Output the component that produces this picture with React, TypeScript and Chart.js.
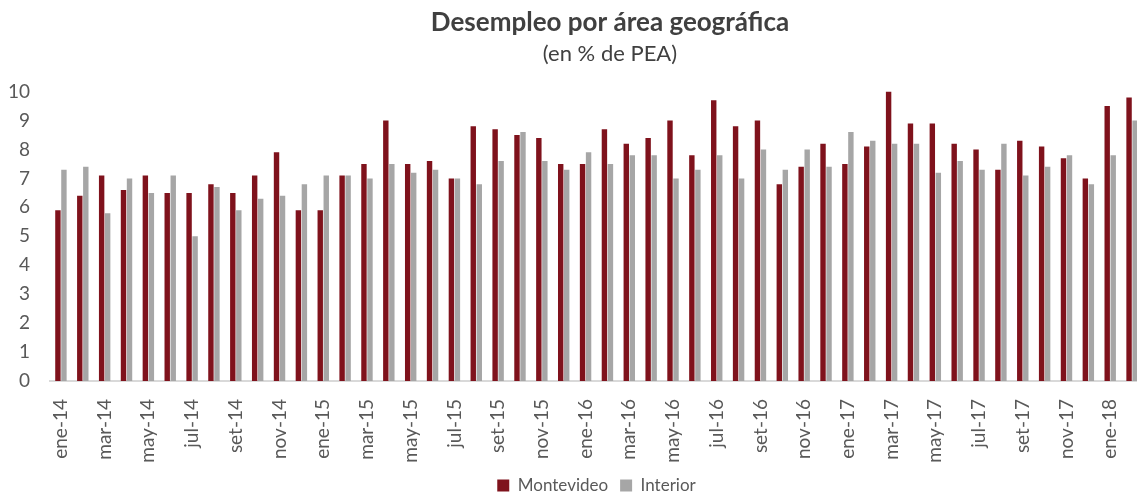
import React, { useEffect, useRef } from "react";
import { Chart, registerables } from "chart.js";

Chart.register(...registerables);

const monthNames = ["ene", "feb", "mar", "abr", "may", "jun", "jul", "ago", "set", "oct", "nov", "dic"];
const years = ["14", "15", "16", "17", "18"];
const categories: string[] = [];
years.forEach((y) => monthNames.forEach((m) => categories.push(`${m}-${y}`)));
const labels = categories.slice(0, 50); // ene-14 .. feb-18

const montevideo = [
  5.9, 6.4, 7.1, 6.6, 7.1, 6.5, 6.5, 6.8, 6.5, 7.1, 7.9, 5.9,
  5.9, 7.1, 7.5, 9.0, 7.5, 7.6, 7.0, 8.8, 8.7, 8.5, 8.4, 7.5,
  7.5, 8.7, 8.2, 8.4, 9.0, 7.8, 9.7, 8.8, 9.0, 6.8, 7.4, 8.2,
  7.5, 8.1, 10.0, 8.9, 8.9, 8.2, 8.0, 7.3, 8.3, 8.1, 7.7, 7.0,
  9.5, 9.8,
];
const interior = [
  7.3, 7.4, 5.8, 7.0, 6.5, 7.1, 5.0, 6.7, 5.9, 6.3, 6.4, 6.8,
  7.1, 7.1, 7.0, 7.5, 7.2, 7.3, 7.0, 6.8, 7.6, 8.6, 7.6, 7.3,
  7.9, 7.5, 7.8, 7.8, 7.0, 7.3, 7.8, 7.0, 8.0, 7.3, 8.0, 7.4,
  8.6, 8.3, 8.2, 8.2, 7.2, 7.6, 7.3, 8.2, 7.1, 7.4, 7.8, 6.8,
  7.8, 9.0,
];
const yTicks = [0, 1, 2, 3, 4, 5, 6, 7, 8, 9, 10];

const FONT = "Lato, 'Open Sans', sans-serif";
const TEXT = "#595959";

export default function App() {
  const ref = useRef<HTMLCanvasElement | null>(null);
  useEffect(() => {
    if (!ref.current) return;
    const chart = new Chart(ref.current, {
      type: "bar",
      data: {
        labels,
        datasets: [
          {
            label: "Montevideo",
            data: montevideo,
            backgroundColor: "#7F121C",
            categoryPercentage: 0.55,
            barPercentage: 0.9,
          },
          {
            label: "Interior",
            data: interior,
            backgroundColor: "#A6A6A6",
            categoryPercentage: 0.55,
            barPercentage: 0.9,
          },
        ],
      },
      options: {
        responsive: false,
        animation: false,
        layout: { padding: { left: 0, right: 0, top: 0, bottom: -11 } },
        plugins: {
          title: {
            display: true,
            text: "Desempleo por área geográfica",
            color: "#404040",
            font: { family: FONT, size: 26, weight: "bold" },
            padding: { top: 7, bottom: 0 },
          },
          subtitle: {
            display: true,
            text: "(en % de PEA)",
            color: "#404040",
            font: { family: FONT, size: 22 },
            padding: { top: 3, bottom: 24 },
          },
          legend: {
            position: "bottom",
            fullSize: false,
            labels: {
              color: TEXT,
              font: { family: FONT, size: 17 },
              boxWidth: 12,
              boxHeight: 12,
              padding: 12,
            },
          },
          tooltip: { enabled: false },
        },
        scales: {
          x: {
            grid: { display: false },
            border: { display: true, color: "#D9D9D9", width: 2 },
            ticks: {
              autoSkip: false,
              maxRotation: 90,
              minRotation: 90,
              padding: 10,
              color: TEXT,
              font: { family: FONT, size: 19 },
              callback: (_v: any, i: number) => (i % 2 === 0 ? labels[i] : ""),
            },
            afterFit: (s: any) => {
              s.height = 84;
            },
          },
          y: {
            min: 0,
            max: 10,
            afterBuildTicks: (s: any) => {
              s.ticks = yTicks.map((v) => ({ value: v }));
            },
            grid: { display: false },
            border: { display: false },
            ticks: {
              padding: 12,
              color: TEXT,
              font: { family: FONT, size: 19 },
            },
            afterFit: (s: any) => {
              s.width = 50;
            },
          },
          pad: {
            type: "linear",
            position: "right",
            display: true,
            grid: { display: false },
            border: { display: false },
            ticks: { display: false },
            afterFit: (s: any) => {
              s.width = 77;
            },
          },
        },
      } as any,
    });
    return () => chart.destroy();
  }, []);
  return (
    <div
      style={{
        position: "fixed",
        left: 0,
        top: 0,
        width: 1137,
        height: 493,
        overflow: "hidden",
        background: "#fff",
      }}
    >
      <canvas ref={ref} width={1220} height={493} style={{ display: "block" }} />
    </div>
  );
}
